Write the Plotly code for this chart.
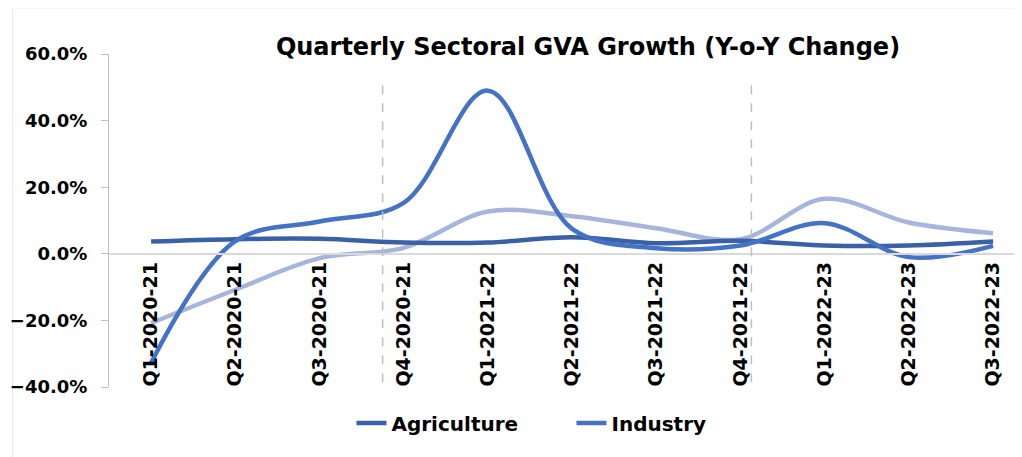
import plotly.graph_objects as go

quarters = ["Q1-2020-21", "Q2-2020-21", "Q3-2020-21", "Q4-2020-21",
            "Q1-2021-22", "Q2-2021-22", "Q3-2021-22", "Q4-2021-22",
            "Q1-2022-23", "Q2-2022-23", "Q3-2022-23"]
agriculture = [3.7, 4.4, 4.5, 3.4, 3.4, 5.0, 3.2, 3.9, 2.5, 2.5, 3.7]
industry = [-32.7, 3.8, 9.7, 15.3, 49.0, 7.5, 1.7, 2.5, 9.2, -1.0, 2.4]
services = [-20.8, -10.8, -1.3, 1.8, 12.7, 11.3, 7.7, 4.4, 16.5, 9.4, 6.2]

divider_positions = [2.75, 7.13]

FONT = "DejaVu Sans"
OFF = 8  # page body margin offset
W, H = 1022 - OFF, 457 - OFF
L, T = 104 - OFF, 54 - OFF
PW = 1020 - 104
PH = 387 - 54

fig = go.Figure()
fig.add_trace(go.Scatter(x=quarters, y=services, mode="lines", name="Services",
                         line=dict(color="#A7B5DC", width=4.5, shape="spline", smoothing=1.0),
                         showlegend=False))
fig.add_trace(go.Scatter(x=quarters, y=agriculture, mode="lines", name="<b>Agriculture</b>",
                         line=dict(color="#3A60A6", width=4.5, shape="spline", smoothing=1.0)))
fig.add_trace(go.Scatter(x=quarters, y=industry, mode="lines", name="<b>Industry</b>",
                         line=dict(color="#4472C4", width=4.5, shape="spline", smoothing=1.0)))

for xp in divider_positions:
    fig.add_shape(type="line", xref="x", yref="y", x0=xp, x1=xp, y0=-38.6, y1=52.0,
                  line=dict(color="#BFBFBF", width=1.5, dash="dash"))

# faint outer frame
fig.add_shape(type="rect", xref="paper", yref="paper",
              x0=(7 - 104) / PW, x1=1.2, y0=-0.5, y1=(387 - 8) / PH,
              line=dict(color="#EBEBEB", width=1), layer="below")

fig.update_layout(
    width=W, height=H,
    margin=dict(l=L, r=W - L - PW, t=T, b=H - T - PH),
    paper_bgcolor="white", plot_bgcolor="white",
    font=dict(family=FONT, color="black"),
    title=dict(text="<b>Quarterly Sectoral GVA Growth (Y-o-Y Change)</b>",
               x=(588 - OFF) / W, xanchor="center", y=1 - (47 - OFF) / H, yanchor="middle",
               font=dict(size=24, family=FONT, color="black")),
    legend=dict(orientation="h", x=(569 - 104) / PW, xanchor="center",
                y=(387 - 423) / PH, yanchor="middle",
                font=dict(size=20, family=FONT, color="black"),
                entrywidth=175, entrywidthmode="pixels",
                bgcolor="rgba(0,0,0,0)"),
    xaxis=dict(type="category", range=[-0.5, 10.32], anchor="free", position=0.4,
               showgrid=False, zeroline=False, showline=True, linecolor="#D9D9D9",
               linewidth=1.5, ticks="", tickangle=-90,
               tickfont=dict(size=19, family=FONT, color="black"),
               tickprefix="<b>", ticksuffix="</b>"),
    yaxis=dict(range=[-40, 60], dtick=20, tick0=0, tickformat=".1f",
               tickprefix="<b>", ticksuffix="%</b>", ticklabelstandoff=10,
               showgrid=False, zeroline=False, showline=True, linecolor="#BFBFBF",
               linewidth=1, ticks="outside", ticklen=7, tickcolor="#BFBFBF",
               tickfont=dict(size=18, family=FONT, color="black"), domain=[0, 1]),
)

fig.write_html("out.html")
